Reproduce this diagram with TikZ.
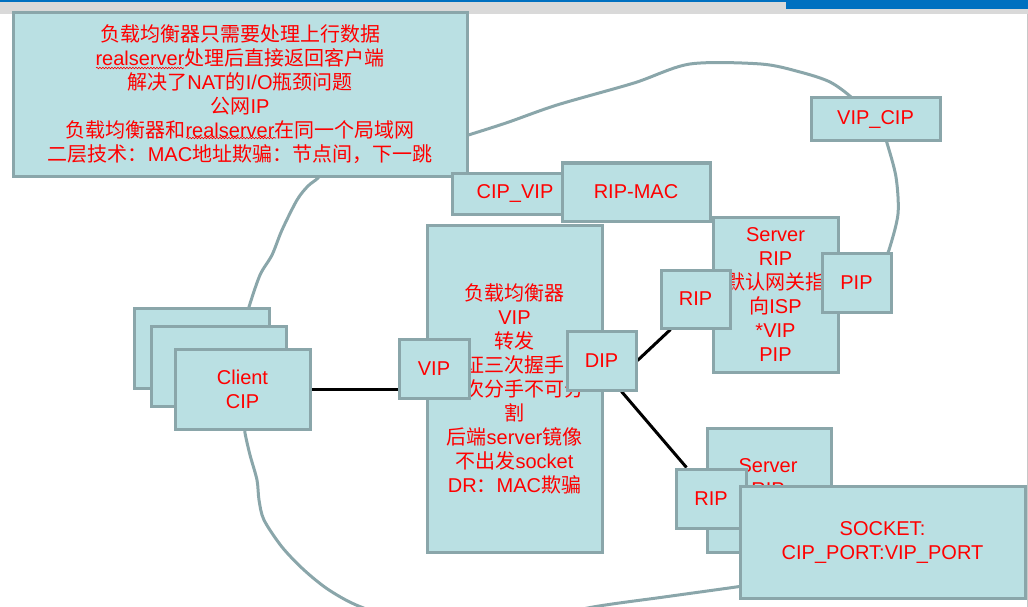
\documentclass[tikz,border=0pt]{standalone}
\usepackage{fontspec}
\setmainfont{Liberation Sans}
\newfontfamily\cjk{Noto Sans CJK SC}
\usetikzlibrary{backgrounds,decorations.pathmorphing}
\definecolor{boxfill}{RGB}{186,224,227}
\definecolor{boxline}{RGB}{138,166,170}
\definecolor{barblue}{RGB}{0,112,192}
\definecolor{bargray}{RGB}{217,217,217}
\newcommand{\zh}[1]{{\cjk #1}}
\tikzset{
    box/.style={draw=boxline, line width=3pt, fill=boxfill, text=red, align=center,
        inner sep=0pt, font=\fontsize{20}{24}\selectfont},
    cloudline/.style={draw=boxline, line width=3pt, line cap=round, line join=round},
    link/.style={draw=black, line width=3pt},
    squiggle/.style={draw=red, line width=0.6pt, decorate,
        decoration={snake, amplitude=0.8pt, segment length=3pt}}
}
\begin{document}
\begin{tikzpicture}[x=1pt,y=-1pt]
    \useasboundingbox (0,0) rectangle (1028,607);
    % boxes
    \node[box, minimum width=454pt, minimum height=163pt] (note) at (240,94.5)
        {\zh{负载均衡器只需要处理上行数据}\\
         realserver\zh{处理后直接返回客户端}\\
         \zh{解决了}NAT\zh{的}I/O\zh{瓶颈问题}\\
         \zh{公网}IP\\
         \zh{负载均衡器和}realserver\zh{在同一个局域网}\\
         \zh{二层技术：}MAC\zh{地址欺骗：节点间，下一跳}};
    \draw[squiggle] (96,68) -- (184,68);
    \draw[squiggle] (186,138) -- (276,138);
    \node[box, minimum width=126pt, minimum height=41pt] (cipvip) at (515,193.5) {CIP\_VIP};
    \node[box, minimum width=148pt, minimum height=58pt] (ripmac) at (636,192) {RIP-MAC};
    \node[box, minimum width=129pt, minimum height=43pt] (vipcip) at (875.5,119.5) {VIP\_CIP};
    \node[box, minimum width=175pt, minimum height=327pt] (lb) at (514.5,388.5)
        {\zh{负载均衡器}\\VIP\\\zh{转发}\\\zh{验证三次握手，}\\\zh{四次分手不可分}\\\zh{割}\\
         \zh{后端}server\zh{镜像}\\\zh{不出发}socket\\DR\zh{：}MAC\zh{欺骗}};
    \node[box, minimum width=70pt, minimum height=59pt] (vip) at (434,368.5) {VIP};
    \node[box, minimum width=69pt, minimum height=59pt] (dip) at (601.5,360.5) {DIP};
    % client stack
    \foreach \i/\x/\y in {3/201.5/348, 2/219/366}
        \node[box, minimum width=135pt, minimum height=80pt] (client\i) at (\x,\y) {};
    \node[box, minimum width=135pt, minimum height=80pt] (client1) at (242.5,389) {Client\\CIP};
    % real servers
    \node[box, minimum width=125pt, minimum height=155pt] (rs1) at (775.5,294.5)
        {Server\\RIP\\\zh{默认网关指}\\\zh{向}ISP\\*VIP\\PIP};
    \node[box, minimum width=69pt, minimum height=58pt] (rs1rip) at (695.5,299) {RIP};
    \node[box, minimum width=69pt, minimum height=59pt] (rs1pip) at (856.5,282.5) {PIP};
    \node[box, minimum width=124pt, minimum height=124pt] (rs2) at (769,490) {};
    \node[box, draw=none, fill=none] (rs2txt) at (768,478) {Server\\RIP};
    \node[box, minimum width=70pt, minimum height=59pt] (rs2rip) at (711,498.5) {RIP};
    \node[box, minimum width=285pt, minimum height=112pt] (socket) at (882.5,542)
        {SOCKET:\\CIP\_PORT:VIP\_PORT};
    \begin{pgfonlayer}{background}
        \clip (0,0) rectangle (1028,607);
        \fill[bargray] (0,2) rectangle (1028,14);
        \fill[barblue] (0,0) rectangle (1028,2);
        \fill[barblue] (786,0) rectangle (1028,9);
        \draw[color=black!22, line width=1pt] (1027,14) -- (1027,607);
        % cloud
        \draw[cloudline] plot[smooth] coordinates {(462,137) (506,123) (557,105) (634,83)
            (690,64) (761,64) (800,72) (830,82) (852,98) (858,110)};
        \draw[cloudline] plot[smooth] coordinates {(884,135) (887,143) (896,177) (898,214)
            (889,250) (884,260)};
        \draw[cloudline] plot[smooth] coordinates {(322,170) (318,178) (308,186) (297,200)
            (282,230) (272,255) (260,275) (249,307) (248,315)};
        \draw[cloudline] plot[smooth] coordinates {(245,425) (245,433) (250,455) (257,480)
            (259,500) (264,520) (282,547) (304,570) (329,590) (361,607) (420,625) (520,622)
            (593,607) (664,597) (736,587) (748,585)};
        % links
        \draw[link] (client1.east) -- (client1.east -| vip.west);
        \draw[link] (dip.east) -- ([xshift=11pt]rs1rip.south west);
        \draw[link] ([xshift=20pt]dip.south) -- ([xshift=12pt]rs2rip.north west);
    \end{pgfonlayer}
\end{tikzpicture}
\end{document}
